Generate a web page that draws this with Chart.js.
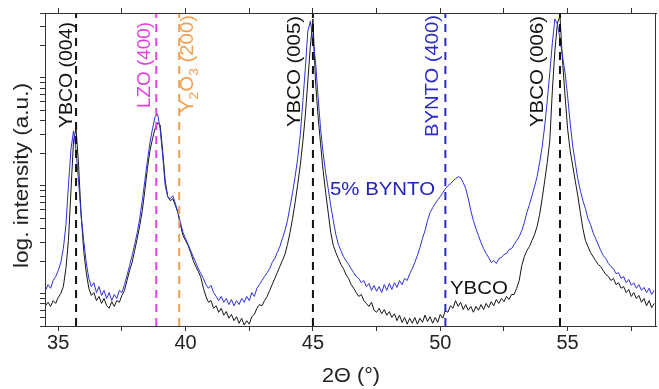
<!DOCTYPE html>
<html>
<head>
<meta charset="utf-8">
<script src="https://cdn.jsdelivr.net/npm/chart.js@4.4.1/dist/chart.umd.min.js"></script>
<style>
html,body{margin:0;padding:0;background:#fff;}
canvas{display:block;}
</style>
</head>
<body>
<canvas id="c" width="659" height="389"></canvas>
<script>
// ---- DATA ----
const angles = [
34.5,34.6,34.7,34.8,34.9,35.0,35.1,35.2,35.3,35.4,
35.5,35.6,35.7,35.8,35.9,36.0,36.1,36.2,36.3,36.4,
36.5,36.6,36.7,36.8,36.9,37.0,37.1,37.2,37.3,37.4,
37.5,37.6,37.7,37.8,37.9,38.0,38.1,38.2,38.3,38.4,
38.5,38.6,38.7,38.8,38.9,39.0,39.1,39.2,39.3,39.4,
39.5,39.6,39.7,39.8,39.9,40.0,40.1,40.2,40.3,40.4,
40.5,40.6,40.7,40.8,40.9,41.0,41.1,41.2,41.3,41.4,
41.5,41.6,41.7,41.8,41.9,42.0,42.1,42.2,42.3,42.4,
42.5,42.6,42.7,42.8,42.9,43.0,43.1,43.2,43.3,43.4,
43.5,43.6,43.7,43.8,43.9,44.0,44.1,44.2,44.3,44.4,
44.5,44.6,44.7,44.8,44.9,45.0,45.1,45.2,45.3,45.4,
45.5,45.6,45.7,45.8,45.9,46.0,46.1,46.2,46.3,46.4,
46.5,46.6,46.7,46.8,46.9,47.0,47.1,47.2,47.3,47.4,
47.5,47.6,47.7,47.8,47.9,48.0,48.1,48.2,48.3,48.4,
48.5,48.6,48.7,48.8,48.9,49.0,49.1,49.2,49.3,49.4,
49.5,49.6,49.7,49.8,49.9,50.0,50.1,50.2,50.3,50.4,
50.5,50.6,50.7,50.8,50.9,51.0,51.1,51.2,51.3,51.4,
51.5,51.6,51.7,51.8,51.9,52.0,52.1,52.2,52.3,52.4,
52.5,52.6,52.7,52.8,52.9,53.0,53.1,53.2,53.3,53.4,
53.5,53.6,53.7,53.8,53.9,54.0,54.1,54.2,54.3,54.4,
54.5,54.6,54.7,54.8,54.9,55.0,55.1,55.2,55.3,55.4,
55.5,55.6,55.7,55.8,55.9,56.0,56.1,56.2,56.3,56.4,
56.5,56.6,56.7,56.8,56.9,57.0,57.1,57.2,57.3,57.4,
57.5,57.6,57.7,57.8,57.9,58.0,58.1,58.2,58.3,58.4
];

const ybco = [
77,83,76,86,81,92,100,116,170,310,
900,2610,3370,1530,528,250,156,112,96,102,
86,94,81,90,77,73,84,76,86,83,
96,107,132,163,194,250,323,427,587,900,
1440,2110,2720,3370,3830,3670,2110,1110,791,727,
758,653,563,427,345,310,279,240,202,178,
160,141,112,94,83,86,73,77,67,73,
63,68,59,64,56,61,53,59,51,56,
52,61,64,73,79,77,86,94,107,121,
138,156,178,202,230,285,367,495,696,1020,
1530,2500,4450,9380,19700,35200,9380,4450,2450,1380,
862,563,367,279,240,211,186,170,150,138,
121,112,102,94,98,86,81,76,83,70,
67,73,65,71,63,68,60,65,56,63,
54,60,52,59,53,60,52,59,54,63,
55,61,53,60,54,64,59,70,67,77,
73,86,76,83,71,79,70,76,67,76,
70,79,71,81,74,84,77,88,81,90,
84,94,88,98,98,112,132,182,220,250,
273,310,352,418,539,758,1110,1640,2610,7580,
17800,32300,37500,14400,6800,3370,2110,1530,1110,808,
563,400,310,273,240,220,202,186,178,163,
150,144,132,138,121,126,112,116,102,109,
94,102,90,96,83,90,77,86,74,81
];

const bynto5 = [
107,121,112,132,144,163,194,261,427,1000,
2190,3230,2110,1070,528,310,194,138,116,126,
102,116,96,107,90,102,86,98,90,107,
102,121,147,182,225,285,367,495,727,1110,
1700,2500,3370,4350,4640,3370,1900,1000,791,758,
808,681,563,455,367,323,285,250,220,194,
170,153,138,121,112,119,102,94,86,94,
83,90,79,88,77,86,79,90,83,94,
86,102,94,112,121,132,144,156,170,194,
211,240,273,323,383,475,639,862,1210,1780,
2900,5860,12100,27200,33700,22100,14400,6800,3370,2020,
1320,938,653,475,352,285,250,220,202,186,
170,156,144,138,126,132,116,124,107,119,
105,116,102,121,107,124,109,126,114,132,
121,138,132,153,170,194,225,267,323,383,
475,563,626,681,742,791,862,938,1000,1040,
1110,1160,1210,1190,1070,938,758,587,475,400,
345,297,261,235,216,194,202,190,211,216,
230,235,256,261,285,310,338,383,455,563,
667,808,979,1210,1640,2290,3580,6120,11100,21100,
35200,31600,23100,15900,11100,6800,3830,2340,1640,1160,
900,727,613,495,436,367,323,285,250,225,
211,190,178,170,153,156,138,144,126,135,
119,126,112,121,107,114,102,112,98,107
];

// reference peak positions (2θ) and their labels
const refPositions = [35.7, 38.85, 39.75, 45.0, 50.2, 54.7];
const refLabels = ['YBCO (004)', 'LZO (400)', 'Y2O3 (200)', 'YBCO (005)', 'BYNTO (400)', 'YBCO (006)'];
const refColors = ['#111111', '#e040e0', '#f0a050', '#111111', '#2a2ad0', '#111111'];

const xTickValues = [35, 37.5, 40, 42.5, 45, 47.5, 50, 52.5, 55, 57.5];
const xTickLabels = ['35', '', '40', '', '45', '', '50', '', '55', ''];
const yTickValues = [50,60,70,80,90,100,200,300,400,500,600,700,800,900,
  1000,2000,3000,4000,5000,6000,7000,8000,9000,10000,20000,30000,40000];

const xMin = 34.48, xMax = 58.47, yMin = 50, yMax = 40000;

const seriesNames = ['5% BYNTO', 'YBCO'];
const axisTitles = { x: '2\u0398 (\u00B0)', y: 'log. intensity (a.u.)' };

// ---- CHART ----
const FONT = '"Liberation Sans", Arial, Helvetica, sans-serif';
Chart.defaults.font.family = FONT;

const datasets = [];
refPositions.forEach((p, i) => {
  datasets.push({
    label: refLabels[i],
    data: [{x: p, y: yMin}, {x: p, y: yMax}],
    borderColor: refColors[i],
    borderWidth: 2,
    borderDash: [8, 6],
    pointRadius: 0,
    order: 0
  });
});
datasets.push({
  label: seriesNames[0],
  data: angles.map((a, i) => ({x: a, y: bynto5[i]})),
  borderColor: '#2f2fd8',
  borderWidth: 1,
  pointRadius: 0,
  tension: 0,
  order: 1
});
datasets.push({
  label: seriesNames[1],
  data: angles.map((a, i) => ({x: a, y: ybco[i]})),
  borderColor: '#151515',
  borderWidth: 1,
  pointRadius: 0,
  tension: 0,
  order: 2
});

function drawStretched(ctx, text, x, y, angle, size, color, targetLen) {
  ctx.save();
  ctx.translate(x, y);
  ctx.rotate(angle);
  ctx.font = size + 'px ' + FONT;
  const w = ctx.measureText(text).width;
  const s = targetLen ? targetLen / w : 1;
  ctx.scale(s, 1);
  ctx.fillStyle = color;
  ctx.textAlign = 'left';
  ctx.textBaseline = 'alphabetic';
  ctx.fillText(text, 0, 0);
  ctx.restore();
}

function drawSubscripted(ctx, parts, x, y, angle, size, subSize, color, targetLen) {
  ctx.save();
  ctx.translate(x, y);
  ctx.rotate(angle);
  let total = 0;
  parts.forEach(p => {
    ctx.font = (p.sub ? subSize : size) + 'px ' + FONT;
    total += ctx.measureText(p.t).width;
  });
  ctx.scale(targetLen / total, 1);
  ctx.fillStyle = color;
  ctx.textBaseline = 'alphabetic';
  ctx.textAlign = 'left';
  let cx = 0;
  parts.forEach(p => {
    ctx.font = (p.sub ? subSize : size) + 'px ' + FONT;
    ctx.fillText(p.t, cx, p.sub ? 5 : 0);
    cx += ctx.measureText(p.t).width;
  });
  ctx.restore();
}

const annotate = {
  id: 'annotate',
  afterDraw(chart) {
    const ctx = chart.ctx;
    const a = chart.chartArea;
    const xs = chart.scales.x;
    const ys = chart.scales.y;
    // frame
    ctx.save();
    ctx.strokeStyle = '#333';
    ctx.lineWidth = 1;
    ctx.strokeRect(a.left + 0.5, a.top + 0.5, a.right - a.left - 1, a.bottom - a.top);
    ctx.restore();

    const up = -Math.PI / 2;
    // label layout: [baseline offset from line px, start y (px from top of canvas), length]
    const lay = [[-4, 128, 106], [-6, 108, 86], [14, 113, 98], [-13, 127, 111], [-7, 137, 122], [-17, 127, 111]];
    refLabels.forEach((lab, i) => {
      const px = xs.getPixelForValue(refPositions[i]) + lay[i][0];
      if (lab.startsWith('Y2O3')) {
        drawSubscripted(ctx, [{t:'Y'},{t:'2',sub:true},{t:'O'},{t:'3',sub:true},{t:' (200)'}],
          px, lay[i][1], up, 19, 13, refColors[i], lay[i][2]);
      } else {
        drawStretched(ctx, lab, px, lay[i][1], up, 19, refColors[i], lay[i][2]);
      }
    });

    // series annotations
    drawStretched(ctx, seriesNames[0], xs.getPixelForValue(45.67), ys.getPixelForValue(825), 0, 19, '#2323c0', 105);
    drawStretched(ctx, seriesNames[1], xs.getPixelForValue(50.38), ys.getPixelForValue(100), 0, 19, '#111', 58);

    // axis titles
    drawStretched(ctx, axisTitles.y, 28, 268, up, 20, '#222', 185);
    drawStretched(ctx, axisTitles.x, 322, 382, 0, 20, '#222', 58);
  }
};

const xAxisCommon = {
  type: 'linear',
  min: xMin,
  max: xMax,
  afterBuildTicks(s) { s.ticks = xTickValues.map(v => ({value: v})); },
  grid: { drawOnChartArea: false, drawTicks: true, tickLength: 5, color: '#333', tickColor: '#333' },
  border: { display: true, color: '#333', width: 1 }
};

new Chart(document.getElementById('c'), {
  type: 'line',
  data: { datasets },
  options: {
    responsive: false,
    animation: false,
    devicePixelRatio: 1,
    parsing: true,
    layout: { padding: { left: 0, right: 3, top: 0, bottom: 0 } },
    plugins: { legend: { display: false }, tooltip: { enabled: false } },
    scales: {
      x: Object.assign({}, xAxisCommon, {
        position: 'bottom',
        ticks: {
          autoSkip: false, maxRotation: 0, padding: 0, color: '#222',
          font: { size: 20, family: FONT },
          callback: (v, i) => xTickLabels[i]
        },
        afterFit(s) { s.height = 63; }
      }),
      xTop: Object.assign({}, xAxisCommon, {
        position: 'top',
        ticks: { autoSkip: false, maxRotation: 0, callback: () => '' },
        afterFit(s) { s.height = 13; }
      }),
      y: {
        type: 'logarithmic',
        position: 'left',
        min: yMin,
        max: yMax,
        afterBuildTicks(s) { s.ticks = yTickValues.map(v => ({value: v})); },
        ticks: { display: false },
        grid: { drawOnChartArea: false, drawTicks: true, tickLength: 5, color: '#333', tickColor: '#333' },
        border: { display: true, color: '#333', width: 1 },
        afterFit(s) { s.width = 45; }
      }
    }
  },
  plugins: [annotate]
});
</script>
</body>
</html>
